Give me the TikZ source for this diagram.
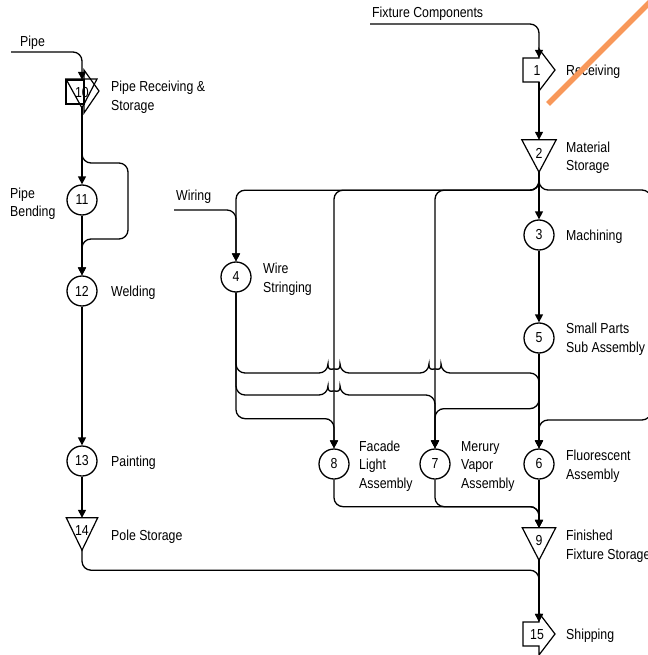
\documentclass[tikz,border=0pt]{standalone}
\usepackage{fontspec}
\setmainfont{Liberation Sans}[FakeStretch=0.85]
\usetikzlibrary{arrows.meta}
\newcommand\dgfont{\fontsize{14.5pt}{18.5pt}\selectfont}
\definecolor{hlorange}{RGB}{248,152,90}
\begin{document}
\begin{tikzpicture}[x=1pt,y=-1pt,
  wire/.style={line width=1.3pt, rounded corners=9pt},
  flow/.style={wire, -{Triangle[length=8pt,width=8pt]}},
  outl/.style={line width=1.2pt, line join=miter},
  op/.style={circle, draw, line width=1.3pt, minimum size=30pt, inner sep=0pt, font=\dgfont},
  port/.style={inner sep=0pt, minimum width=0pt},
  num/.style={inner sep=0pt, font=\dgfont, text height=10.4pt, text depth=0pt},
  lbl/.style={anchor=north west, align=left, inner sep=0pt, font=\dgfont}]
\useasboundingbox (0,0) rectangle (647,655);

% ---------- nodes ----------
\node[port, minimum height=26pt] (n10) at (82,93) {};
\node[num] (n10t) at (82,92) {10};
\node[op] (n11) at (82,200) {11};
\node[op] (n12) at (82,291) {12};
\node[op] (n13) at (82,461) {13};
\node[port, minimum width=31pt, minimum height=32pt] (n14) at (82,534) {};
\node[num] (n14t) at (82,530) {14};

\node[port, minimum height=24pt] (n1) at (539,70) {};
\node[num] (n1t) at (537,70) {1};
\node[port, minimum width=34pt, minimum height=32pt] (n2) at (539,156) {};
\node[num] (n2t) at (539,153) {2};
\node[op] (n3) at (539,235) {3};
\node[op] (n4) at (236,277) {4};
\node[op] (n5) at (539,338) {5};
\node[op] (n6) at (539,464) {6};
\node[op] (n7) at (435,464) {7};
\node[op] (n8) at (334,464) {8};
\node[port, minimum width=33pt, minimum height=32pt] (n9) at (539,544) {};
\node[num] (n9t) at (539,540) {9};
\node[port, minimum height=24pt] (n15) at (539,634) {};
\node[num] (n15t) at (537,634) {15};

% ---------- symbol outlines ----------
\draw[outl, shift={(n1.center)}] (-16,-12) -- (0,-12) -- (0,-21) -- (16,0) -- (0,21) -- (0,12) -- (-16,12) -- cycle;
\draw[outl, shift={(n15.center)}] (-16,-12) -- (0,-12) -- (0,-21) -- (16,0) -- (0,21) -- (0,12) -- (-16,12) -- cycle;
\draw[outl] (n2.north west) -- (n2.north east) -- (n2.south) -- cycle;
\draw[outl] (n9.north west) -- (n9.north east) -- (n9.south) -- cycle;
\draw[outl] (n14.north west) -- (n14.north east) -- (n14.south) -- cycle;
\draw[outl, shift={(n10.center)}] (-16,-13) rectangle (2,11);
\draw[outl, shift={(n10.center)}] (-16,-14) -- (15,-14) -- (0,15) -- cycle;
\draw[outl, shift={(n10.center)}] (2,-13) -- (2,-23) -- (17,-2) -- (2,20) -- (2,11);

% ---------- free ends and waypoints ----------
\coordinate (pipein) at (11,52);
\coordinate (wirein) at (174,210);
\coordinate (fcin) at (370,24);
\coordinate (bp1) at (128,163);
\coordinate (bp2) at (128,239);
\coordinate (rt1) at (651,190);
\coordinate (rt2) at (651,420);

% ---------- connectors ----------
\draw[flow] (pipein) -| (n10.north);
\draw[flow] (n10.south) -- (n11.north);
\draw[flow] (n10.south) |- (bp1) -- (bp2) -| (n12.north);
\draw[flow] (n11.south) -- (n12.north);
\draw[flow] (n12.south) -- (n13.north);
\draw[flow] (n13.south) -- (n14.north);
\draw[flow] (n14.south) -- ++(0,20) -| (n15.north);

\draw[flow] (fcin) -| (n1.north);
\draw[flow] (n1.south) -- (n2.north);
\draw[flow] (n2.south) -- (n3.north);
\draw[flow] (n2.south) -- ++(0,18) -| (n4.north);
\draw[flow] (n2.south) -- ++(0,18) -| (n8.north);
\draw[flow] (n2.south) -- ++(0,18) -| (n7.north);
\draw[flow] (n2.south) |- (rt1) -- (rt2) -| (n6.north);
\draw[flow] (wirein) -| (n4.north);
\draw[flow] (n3.south) -- (n5.north);
\draw[flow] (n5.south) -- (n6.north);
\draw[flow] (n5.south) -- ++(0,55) -| (n7.north);
\draw[flow] (n4.south) |- (328,373) arc[start angle=180,end angle=0,x radius=6pt,y radius=4pt]
  -- (429,373) arc[start angle=180,end angle=0,x radius=6pt,y radius=4pt] -| (n6.north);
\draw[flow] (n4.south) |- (328,395) arc[start angle=180,end angle=0,x radius=6pt,y radius=4pt] -| (n7.north);
\draw[flow] (n4.south) -- ++(0,126) -| (n8.north);
\draw[flow] (n8.south) -- ++(0,27) -| (n9.north);
\draw[flow] (n7.south) -- ++(0,27) -| (n9.north);
\draw[flow] (n6.south) -- (n9.north);
\draw[flow] (n9.south) -- (n15.north);

% ---------- labels ----------
\node[lbl] (lpipe) at (20,36) {Pipe};
\node[lbl] (l10) at (111,81) {Pipe Receiving \&\\Storage};
\node[lbl] (l11) at (10,187.5) {Pipe\\Bending};
\node[lbl] (lwiring) at (176,190) {Wiring};
\node[lbl] (l4) at (263,263) {Wire\\Stringing};
\node[lbl] (l12) at (111,285.5) {Welding};
\node[lbl] (l13) at (111,456) {Painting};
\node[lbl] (l14) at (111,530) {Pole Storage};
\node[lbl] (lfc) at (372,6.5) {Fixture Components};
\node[lbl] (l1) at (566,65) {Receiving};
\node[lbl] (l2) at (566,141.5) {Material\\Storage};
\node[lbl] (l3) at (566,230) {Machining};
\node[lbl] (l5) at (566,323) {Small Parts\\Sub Assembly};
\node[lbl] (l8) at (359,440.5) {Facade\\Light\\Assembly};
\node[lbl] (l7) at (461,441) {Merury\\Vapor\\Assembly};
\node[lbl] (l6) at (566,450) {Fluorescent\\Assembly};
\node[lbl] (l9) at (566,530) {Finished\\Fixture Storage};
\node[lbl] (l15) at (566,629) {Shipping};

% ---------- annotation stroke ----------
\draw[hlorange, line width=5.5pt] (548,104) -- (652,0);
\end{tikzpicture}
\end{document}
